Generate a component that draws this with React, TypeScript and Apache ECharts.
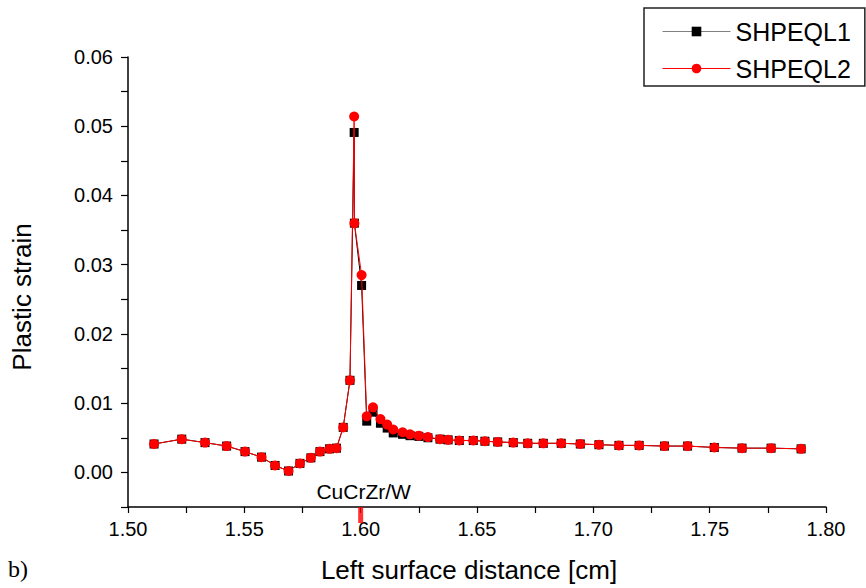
import React, { useEffect, useRef } from "react";
import * as echarts from "echarts";

const xValues = [
  1.5112, 1.5231, 1.5331, 1.5424, 1.5503, 1.5574, 1.5632, 1.569, 1.5739, 1.5786,
  1.5825, 1.5866, 1.5896, 1.5925, 1.5954, 1.5972, 1.5973, 1.6004, 1.6026, 1.6053,
  1.6085, 1.6114, 1.614, 1.618, 1.6212, 1.625, 1.6289, 1.6341, 1.6376, 1.6424,
  1.6484, 1.6534, 1.6589, 1.6656, 1.6718, 1.6785, 1.6862, 1.6944, 1.7024, 1.711,
  1.7197, 1.7306, 1.7405, 1.752, 1.7639, 1.7764, 1.7893,
];

const shpeql1 = [
  0.0041, 0.0048, 0.0043, 0.0038, 0.003, 0.0022, 0.001, 0.0002, 0.0013, 0.0021,
  0.003, 0.0034, 0.0035, 0.0065, 0.0133, 0.0491, 0.036, 0.027, 0.0074, 0.0087,
  0.0071, 0.0064, 0.0057, 0.0055, 0.0053, 0.0052, 0.005, 0.0048, 0.0047, 0.0046,
  0.0046, 0.0045, 0.0044, 0.0043, 0.0042, 0.0042, 0.0042, 0.0041, 0.004, 0.0039,
  0.0039, 0.0038, 0.0038, 0.0036, 0.0035, 0.0035, 0.0034,
];

const shpeql2 = [
  0.0041, 0.0048, 0.0043, 0.0038, 0.003, 0.0022, 0.001, 0.0002, 0.0013, 0.0021,
  0.003, 0.0034, 0.0035, 0.0065, 0.0133, 0.0514, 0.036, 0.0285, 0.0081, 0.0094,
  0.0077, 0.0069, 0.0062, 0.0058, 0.0055, 0.0053, 0.0051, 0.0048, 0.0047, 0.0046,
  0.0046, 0.0045, 0.0044, 0.0043, 0.0042, 0.0042, 0.0042, 0.0041, 0.004, 0.0039,
  0.0039, 0.0038, 0.0038, 0.0036, 0.0035, 0.0035, 0.0034,
];

const interfacePoint = [1.6, -0.005];
const interfaceLabel = "CuCrZr/W";
const seriesNames = ["SHPEQL1", "SHPEQL2"];
const xTitle = "Left surface distance [cm]";
const yTitle = "Plastic strain";
const panelLabel = "b)";

const FONT = "'Liberation Sans', Arial, sans-serif";

export default function App() {
  const ref = useRef<HTMLDivElement>(null);

  useEffect(() => {
    if (!ref.current) return;
    const chart = echarts.init(ref.current, undefined, { renderer: "svg" });
    const pair = (ys: number[]) => xValues.map((x, i) => [x, ys[i]]);

    const baseGraphic: any[] = [
      {
        id: "panel",
        type: "text",
        left: 8,
        top: 557,
        style: { text: panelLabel, font: "24px 'Liberation Serif', 'Times New Roman', serif", fill: "#000" },
      },
      {
        id: "xname",
        type: "text",
        x: 469,
        y: 570,
        style: {
          text: xTitle,
          font: `26px ${FONT}`,
          fill: "#000",
          align: "center",
          verticalAlign: "middle",
        },
      },
      {
        id: "yname",
        type: "text",
        x: 22,
        y: 297,
        rotation: Math.PI / 2,
        style: {
          text: yTitle,
          font: `26px ${FONT}`,
          fill: "#000",
          align: "center",
          verticalAlign: "middle",
        },
      },
    ];

    chart.setOption({
      animation: false,
      backgroundColor: "#fff",
      textStyle: { fontFamily: FONT },
      grid: { left: 128, right: 40, top: 57, bottom: 81, containLabel: false },
      legend: {
        orient: "vertical",
        left: 644,
        top: 8,
        padding: [11, 14, 5, 18],
        itemWidth: 68,
        itemHeight: 12,
        itemGap: 12,
        borderColor: "#222",
        borderWidth: 1.5,
        borderRadius: 0,
        textStyle: { fontSize: 25, color: "#000", fontFamily: FONT },
        data: [
          { name: seriesNames[0], lineStyle: { color: "#808080", width: 1 } },
          { name: seriesNames[1], lineStyle: { color: "#ff0000", width: 1 } },
        ],
      },
      xAxis: {
        type: "value",
        min: 1.5,
        max: 1.8,
        interval: 0.025,
        axisLine: { onZero: false, lineStyle: { color: "#000", width: 1.5 } },
        axisTick: { show: true, inside: false, length: 6, lineStyle: { color: "#000", width: 1.2 } },
        axisLabel: {
          margin: 12,
          fontSize: 20,
          color: "#000",
          fontFamily: FONT,
          formatter: (v: number) => {
            const k = Math.round(v / 0.025);
            return k % 2 === 0 ? v.toFixed(2) : "";
          },
        },
        splitLine: { show: false },
      },
      yAxis: {
        type: "value",
        min: -0.005,
        max: 0.06,
        interval: 0.005,
        axisLine: { onZero: false, lineStyle: { color: "#000", width: 1.5 } },
        axisTick: { show: true, inside: false, length: 7, lineStyle: { color: "#000", width: 1.2 } },
        axisLabel: {
          margin: 15,
          fontSize: 20,
          color: "#000",
          fontFamily: FONT,
          formatter: (v: number) => {
            const k = Math.round(v / 0.005);
            if (k % 2 !== 0) return "";
            const r = Math.round(v * 100) / 100;
            return Math.abs(r) < 1e-9 ? "0.00" : r.toFixed(2);
          },
        },
        splitLine: { show: false },
      },
      series: [
        {
          name: seriesNames[0],
          type: "line",
          data: pair(shpeql1),
          symbol: "rect",
          symbolSize: 9,
          itemStyle: { color: "#000" },
          lineStyle: { color: "#000", width: 1 },
          z: 2,
        },
        {
          name: seriesNames[1],
          type: "line",
          data: pair(shpeql2),
          symbol: "circle",
          symbolSize: 10,
          itemStyle: { color: "#ff0000" },
          lineStyle: { color: "#ff0000", width: 1 },
          z: 3,
        },
        {
          name: "interface",
          type: "scatter",
          data: [interfacePoint],
          symbol: "rect",
          symbolSize: [5, 16],
          symbolOffset: [0, 8],
          clip: false,
          itemStyle: { color: "#ff0000" },
          silent: true,
          z: 4,
        },
      ],
      graphic: baseGraphic,
    });

    const p = chart.convertToPixel({ gridIndex: 0 }, interfacePoint) as number[];
    if (p && isFinite(p[0])) {
      chart.setOption({
        graphic: [
          ...baseGraphic,
          {
            id: "iface",
            type: "text",
            x: p[0] + 3,
            y: p[1] - 16,
            z: 10,
            style: {
              text: interfaceLabel,
              font: `21px ${FONT}`,
              fill: "#000",
              align: "center",
              verticalAlign: "middle",
            },
          },
        ],
      });
    }

    return () => chart.dispose();
  }, []);

  return (
    <div
      ref={ref}
      style={{ position: "fixed", left: 0, top: 0, width: 866, height: 588 }}
    />
  );
}
